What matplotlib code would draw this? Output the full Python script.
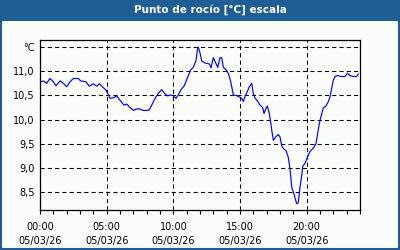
import matplotlib
matplotlib.use("Agg")
import matplotlib.pyplot as plt
from matplotlib.patches import Rectangle
from matplotlib.ticker import FixedLocator, MultipleLocator

# Hours since 00:00 on 05/03/26 and dew point values (°C)
hours = [0.05, 0.25, 0.50, 0.75, 0.95, 1.20, 1.50, 1.75, 2.00, 2.25, 2.50, 2.87, 3.05, 3.45,
         3.70, 4.00, 4.25, 4.45, 4.63, 4.95, 5.25, 5.50, 5.75, 6.00, 6.30, 6.50, 6.75, 7.00,
         7.25, 7.50, 7.70, 8.00, 8.20, 8.38, 8.63, 8.87, 9.13, 9.32, 9.55, 9.80, 10.00, 10.20,
         10.37, 10.58, 10.82, 11.05, 11.30, 11.50, 11.70, 11.80, 11.87, 12.00, 12.13, 12.38,
         12.70, 12.83, 13.00, 13.18, 13.33, 13.50, 13.63, 13.75, 13.95, 14.12, 14.30, 14.50,
         14.70, 14.87, 15.00, 15.13, 15.25, 15.38, 15.50, 15.70, 15.88, 16.00, 16.13, 16.30,
         16.50, 16.70, 16.80, 16.95, 17.05, 17.20, 17.30, 17.38, 17.50, 17.70, 17.87, 18.00,
         18.13, 18.25, 18.45, 18.62, 18.75, 18.88, 19.05, 19.25, 19.37, 19.50, 19.63, 19.70,
         19.88, 20.00, 20.12, 20.25, 20.50, 20.70, 20.80, 20.95, 21.13, 21.25, 21.45, 21.62,
         21.75, 21.88, 22.00, 22.13, 22.30, 22.63, 22.88, 23.05, 23.25, 23.50, 23.75, 23.87]
dew_point = [10.78, 10.80, 10.75, 10.85, 10.80, 10.70, 10.80, 10.75, 10.68, 10.78, 10.85, 10.85,
             10.80, 10.78, 10.69, 10.74, 10.69, 10.74, 10.69, 10.61, 10.44, 10.45, 10.49, 10.40,
             10.30, 10.32, 10.25, 10.19, 10.22, 10.22, 10.19, 10.19, 10.20, 10.30, 10.44, 10.54,
             10.62, 10.55, 10.49, 10.51, 10.49, 10.44, 10.51, 10.62, 10.70, 10.86, 11.03, 11.08,
             11.22, 11.44, 11.50, 11.38, 11.21, 11.17, 11.15, 11.07, 11.28, 11.17, 11.08, 11.28,
             11.28, 11.08, 11.03, 10.96, 10.79, 10.51, 10.50, 10.48, 10.46, 10.44, 10.375, 10.48,
             10.55, 10.68, 10.75, 10.54, 10.44, 10.39, 10.30, 10.25, 10.125, 10.23, 10.28, 10.125,
             9.95, 9.78, 9.57, 9.65, 9.69, 9.64, 9.46, 9.40, 9.36, 9.22, 8.98, 8.60, 8.46, 8.26,
             8.28, 8.60, 8.84, 9.03, 9.10, 9.18, 9.26, 9.34, 9.41, 9.50, 9.67, 9.92, 10.125, 10.24,
             10.28, 10.37, 10.47, 10.65, 10.82, 10.89, 10.91, 10.89, 10.89, 10.96, 10.91, 10.89,
             10.89, 10.94]

y_ticks = [8.5, 9.0, 9.5, 10.0, 10.5, 11.0, 11.5]
y_tick_labels = ["8,5", "9,0", "9,5", "10,0", "10,5", "11,0", "°C"]
x_ticks = [0, 5, 10, 15, 20]
x_tick_labels = ["00:00\n05/03/26", "05:00\n05/03/26", "10:00\n05/03/26",
                 "15:00\n05/03/26", "20:00\n05/03/26"]
title = "Punto de rocío [°C] escala"

bg = "#fbfdfb"
bar = "#1f5d96"

fig = plt.figure(figsize=(4, 2.5), dpi=100, facecolor=bg)
ax = fig.add_axes([0.1, 0.16, 0.8, 0.68], facecolor=bg)

ax.plot(hours, dew_point, color="#0000ff", lw=0.85)

ax.set_xlim(0, 24)
ax.set_ylim(8.13, 11.646)
ax.xaxis.set_major_locator(FixedLocator(x_ticks))
ax.set_xticklabels(x_tick_labels, linespacing=1.45)
ax.xaxis.set_minor_locator(MultipleLocator(1))
ax.set_yticks(y_ticks)
ax.set_yticklabels(y_tick_labels)

ax.tick_params(axis="x", which="both", direction="out", length=3, width=0.8,
               labelsize=7, pad=6, colors="black")
ax.tick_params(axis="y", which="both", length=0, labelsize=7, pad=4)

ax.grid(True, which="major", color="black", linestyle=(0, (4, 3)), lw=0.75)
for s in ax.spines.values():
    s.set_color("black")
    s.set_linewidth(0.9)

# title bar and frame
fig.patches.append(Rectangle((0, 1 - 20.5 / 250), 1, 20.5 / 250, transform=fig.transFigure,
                             facecolor=bar, edgecolor="none", zorder=0))
fig.patches.append(Rectangle((0.0025, 0.004), 0.995, 0.992, transform=fig.transFigure,
                             facecolor="none", edgecolor=bar, lw=1.5, zorder=1))
fig.text(0.525, 1 - 10 / 250, title, color="white", fontsize=7.5, fontweight="bold",
         ha="center", va="center")

fig.savefig("out.png", dpi=100, facecolor=bg)
